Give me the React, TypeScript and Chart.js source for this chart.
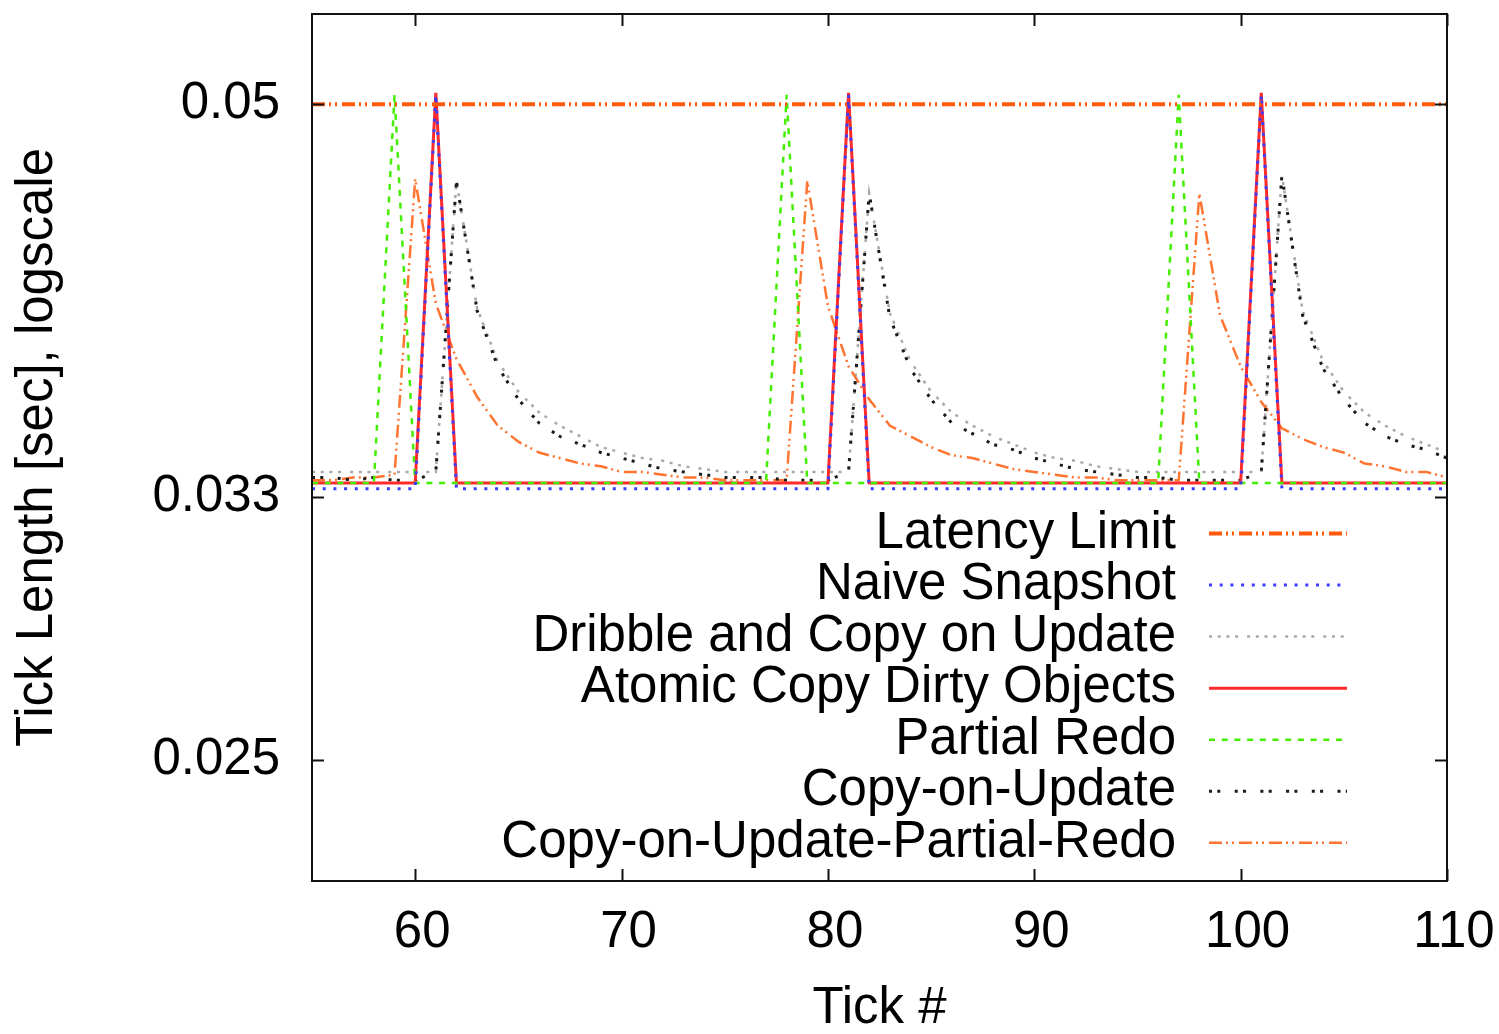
import React, { useEffect, useRef } from "react";
import { Chart, registerables } from "chart.js";

Chart.register(...registerables);

// ---------- data ----------
const tickNumbers = [
  55, 56, 57, 58, 59, 60, 61, 62, 63, 64, 65, 66, 67, 68, 69, 70, 71, 72, 73, 74,
  75, 76, 77, 78, 79, 80, 81, 82, 83, 84, 85, 86, 87, 88, 89, 90, 91, 92, 93, 94,
  95, 96, 97, 98, 99, 100, 101, 102, 103, 104, 105, 106, 107, 108, 109, 110,
];

const latencyLimitX = [55, 110];
const latencyLimit = [0.05, 0.05];

const naiveSnapshot = [
  0.0333, 0.0333, 0.0333, 0.0333, 0.0333, 0.0333, 0.0505, 0.0333, 0.0333, 0.0333,
  0.0333, 0.0333, 0.0333, 0.0333, 0.0333, 0.0333, 0.0333, 0.0333, 0.0333, 0.0333,
  0.0333, 0.0333, 0.0333, 0.0333, 0.0333, 0.0333, 0.0505, 0.0333, 0.0333, 0.0333,
  0.0333, 0.0333, 0.0333, 0.0333, 0.0333, 0.0333, 0.0333, 0.0333, 0.0333, 0.0333,
  0.0333, 0.0333, 0.0333, 0.0333, 0.0333, 0.0333, 0.0505, 0.0333, 0.0333, 0.0333,
  0.0333, 0.0333, 0.0333, 0.0333, 0.0333, 0.0333,
];

const dribbleCopyOnUpdate = [
  0.0339, 0.0339, 0.0339, 0.0339, 0.0339, 0.0339, 0.0339, 0.0461, 0.0403, 0.0381,
  0.0369, 0.0361, 0.0356, 0.0352, 0.0348, 0.0346, 0.0344, 0.0343, 0.0341, 0.034,
  0.0339, 0.0339, 0.0339, 0.0339, 0.0339, 0.0339, 0.0339, 0.0455, 0.0401, 0.0381,
  0.0369, 0.0361, 0.0356, 0.0352, 0.0349, 0.0346, 0.0344, 0.0343, 0.0341, 0.034,
  0.0339, 0.0339, 0.0339, 0.0339, 0.0339, 0.0339, 0.0339, 0.0464, 0.0402, 0.0381,
  0.0369, 0.0361, 0.0356, 0.0352, 0.0349, 0.0346,
];

const atomicCopyDirty = [
  0.0335, 0.0335, 0.0335, 0.0335, 0.0335, 0.0335, 0.0506, 0.0335, 0.0335, 0.0335,
  0.0335, 0.0335, 0.0335, 0.0335, 0.0335, 0.0335, 0.0335, 0.0335, 0.0335, 0.0335,
  0.0335, 0.0335, 0.0335, 0.0335, 0.0335, 0.0335, 0.0506, 0.0335, 0.0335, 0.0335,
  0.0335, 0.0335, 0.0335, 0.0335, 0.0335, 0.0335, 0.0335, 0.0335, 0.0335, 0.0335,
  0.0335, 0.0335, 0.0335, 0.0335, 0.0335, 0.0335, 0.0506, 0.0335, 0.0335, 0.0335,
  0.0335, 0.0335, 0.0335, 0.0335, 0.0335, 0.0335,
];

const partialRedo = [
  0.0335, 0.0335, 0.0335, 0.0335, 0.0505, 0.0335, 0.0335, 0.0335, 0.0335, 0.0335,
  0.0335, 0.0335, 0.0335, 0.0335, 0.0335, 0.0335, 0.0335, 0.0335, 0.0335, 0.0335,
  0.0335, 0.0335, 0.0335, 0.0505, 0.0335, 0.0335, 0.0335, 0.0335, 0.0335, 0.0335,
  0.0335, 0.0335, 0.0335, 0.0335, 0.0335, 0.0335, 0.0335, 0.0335, 0.0335, 0.0335,
  0.0335, 0.0335, 0.0505, 0.0335, 0.0335, 0.0335, 0.0335, 0.0335, 0.0335, 0.0335,
  0.0335, 0.0335, 0.0335, 0.0335, 0.0335, 0.0335,
];

const copyOnUpdate = [
  0.0337, 0.0337, 0.0336, 0.0337, 0.0336, 0.0336, 0.0339, 0.0461, 0.0402, 0.0379,
  0.0366, 0.0357, 0.0352, 0.0349, 0.0346, 0.0344, 0.0342, 0.034, 0.0339, 0.0338,
  0.0337, 0.0337, 0.0337, 0.0336, 0.0336, 0.0336, 0.0339, 0.0455, 0.0399, 0.0378,
  0.0366, 0.0357, 0.0353, 0.0349, 0.0347, 0.0344, 0.0342, 0.034, 0.0339, 0.0338,
  0.0337, 0.0337, 0.0336, 0.0336, 0.0336, 0.0336, 0.0339, 0.0464, 0.04, 0.0378,
  0.0366, 0.0357, 0.0352, 0.0349, 0.0347, 0.0344,
];

const copyOnUpdatePartialRedo = [
  0.0336, 0.0336, 0.0337, 0.0337, 0.0338, 0.0462, 0.0405, 0.0382, 0.0367, 0.0356,
  0.035, 0.0346, 0.0344, 0.0342, 0.0341, 0.0339, 0.0339, 0.0338, 0.0337, 0.0337,
  0.0336, 0.0336, 0.0336, 0.0336, 0.0461, 0.0404, 0.0379, 0.0366, 0.0356, 0.0352,
  0.0348, 0.0345, 0.0344, 0.0342, 0.034, 0.0339, 0.0338, 0.0337, 0.0337, 0.0336,
  0.0336, 0.0336, 0.0336, 0.0455, 0.04, 0.0379, 0.0365, 0.0355, 0.0351, 0.0348,
  0.0346, 0.0342, 0.0341, 0.0339, 0.0339, 0.0337,
];

const seriesLabels = [
  "Latency Limit",
  "Naive Snapshot",
  "Dribble and Copy on Update",
  "Atomic Copy Dirty Objects",
  "Partial Redo",
  "Copy-on-Update",
  "Copy-on-Update-Partial-Redo",
];

const xTickValues = [60, 70, 80, 90, 100, 110];
const yTickValues = [0.025, 0.033, 0.05];
const yTickLabels = ["0.025", "0.033", "0.05"];

const xTitle = "Tick #";
const yTitle = "Tick Length [sec], logscale";

// ---------- styling ----------
const FONT = "'Liberation Sans', Arial, Helvetica, sans-serif";
const FS = 51;

const toPoints = (xs: number[], ys: number[]) => ys.map((y, i) => ({ x: xs[i], y }));

const gnuplotFrame = {
  id: "gnuplotFrame",
  afterDatasetsDraw(chart: any) {
    const { ctx, chartArea } = chart;
    const { left, right, top, bottom } = chartArea;
    const xs = chart.scales.x;
    const ys = chart.scales.y;
    const TL = 12;
    ctx.save();
    ctx.strokeStyle = "#111";
    ctx.lineWidth = 2;
    ctx.setLineDash([]);
    ctx.strokeRect(left, top, right - left, bottom - top);
    ctx.beginPath();
    yTickValues.forEach((v) => {
      const py = Math.round(ys.getPixelForValue(v)) + 0.5;
      ctx.moveTo(left, py);
      ctx.lineTo(left + TL, py);
      ctx.moveTo(right, py);
      ctx.lineTo(right - TL, py);
    });
    xTickValues.forEach((v) => {
      const px = Math.round(xs.getPixelForValue(v)) + 0.5;
      ctx.moveTo(px, bottom);
      ctx.lineTo(px, bottom - TL);
      ctx.moveTo(px, top);
      ctx.lineTo(px, top + TL);
    });
    ctx.stroke();
    ctx.restore();
  },
  afterDraw(chart: any) {
    const { ctx, chartArea } = chart;
    const textRight = chartArea.right - 271;
    const s1 = chartArea.right - 238;
    const s2 = chartArea.right - 100;
    const y0 = chartArea.bottom - 347.5;
    const step = 51.55;
    ctx.save();
    ctx.font = `${FS}px ${FONT}`;
    ctx.textAlign = "right";
    ctx.textBaseline = "middle";
    chart.data.datasets.forEach((ds: any, i: number) => {
      const y = y0 + i * step;
      ctx.fillStyle = "#000";
      ctx.fillText(ds.label, textRight, y);
      ctx.beginPath();
      ctx.strokeStyle = ds.borderColor;
      ctx.lineWidth = ds.borderWidth;
      ctx.setLineDash(ds.borderDash || []);
      ctx.lineDashOffset = 0;
      ctx.moveTo(s1, y);
      ctx.lineTo(s2, y);
      ctx.stroke();
    });
    ctx.restore();
  },
};

export default function App() {
  const ref = useRef<HTMLCanvasElement | null>(null);

  useEffect(() => {
    const canvas = ref.current;
    if (!canvas) return;
    const chart = new Chart(canvas, {
      type: "line",
      data: {
        datasets: [
          {
            label: seriesLabels[0],
            data: toPoints(latencyLimitX, latencyLimit),
            borderColor: "#ff5a0a",
            borderWidth: 4,
            borderDash: [13, 4, 2, 4, 2, 5],
            order: 0,
          },
          {
            label: seriesLabels[1],
            data: toPoints(tickNumbers, naiveSnapshot),
            borderColor: "#3c3cff",
            borderWidth: 3,
            borderDash: [3, 7.7],
            order: 0,
          },
          {
            label: seriesLabels[2],
            data: toPoints(tickNumbers, dribbleCopyOnUpdate),
            borderColor: "#a8a8a8",
            borderWidth: 2.5,
            borderDash: [3, 5.7, 3, 5.7, 3, 5.7, 3, 9],
            order: 2,
          },
          {
            label: seriesLabels[3],
            data: toPoints(tickNumbers, atomicCopyDirty),
            borderColor: "#ff2a2a",
            borderWidth: 3,
            borderDash: [],
            order: 1,
          },
          {
            label: seriesLabels[4],
            data: toPoints(tickNumbers, partialRedo),
            borderColor: "#44ee00",
            borderWidth: 2.5,
            borderDash: [6, 6.7],
            order: 0,
          },
          {
            label: seriesLabels[5],
            data: toPoints(tickNumbers, copyOnUpdate),
            borderColor: "#1a1a1a",
            borderWidth: 3,
            borderDash: [3, 5.3, 3, 14.4],
            order: 1,
          },
          {
            label: seriesLabels[6],
            data: toPoints(tickNumbers, copyOnUpdatePartialRedo),
            borderColor: "#ff7430",
            borderWidth: 2.5,
            borderDash: [13, 4, 2, 4, 2, 5],
            order: 1,
          },
        ],
      },
      options: {
        responsive: false,
        devicePixelRatio: 1,
        animation: false,
        events: [],
        layout: { padding: { top: 14, right: 52, left: 0, bottom: 0 } },
        elements: {
          point: { radius: 0 },
          line: { tension: 0, fill: false, borderJoinStyle: "miter" },
        },
        plugins: {
          legend: { display: false },
          tooltip: { enabled: false },
        },
        scales: {
          x: {
            type: "linear",
            position: "bottom",
            min: 55,
            max: 110,
            grid: { display: false, drawTicks: false },
            border: { display: false },
            ticks: {
              font: { family: FONT, size: FS },
              color: "#000",
              padding: 21,
              labelOffset: 7,
              autoSkip: false,
              maxRotation: 0,
            },
            afterBuildTicks: (s: any) => {
              s.ticks = xTickValues.map((v) => ({ value: v }));
            },
            afterFit: (s: any) => {
              s.height = 153;
              s.paddingLeft = 0;
              s.paddingRight = 0;
            },
            title: {
              display: true,
              text: xTitle,
              color: "#000",
              font: { family: FONT, size: FS, lineHeight: 1 },
              padding: { top: 0, bottom: 0 },
            },
          },
          y: {
            type: "logarithmic",
            position: "left",
            min: 0.022,
            max: 0.055,
            grid: { display: false, drawTicks: false },
            border: { display: false },
            ticks: {
              font: { family: FONT, size: FS },
              color: "#000",
              padding: 32,
              autoSkip: false,
              callback: (v: any) => {
                const i = yTickValues.indexOf(Number(v));
                return i >= 0 ? yTickLabels[i] : "";
              },
            },
            afterBuildTicks: (s: any) => {
              s.ticks = yTickValues.map((v) => ({ value: v }));
            },
            afterFit: (s: any) => {
              s.width = 312;
              s.paddingTop = 0;
              s.paddingBottom = 0;
            },
            title: {
              display: true,
              text: yTitle,
              color: "#000",
              font: { family: FONT, size: FS, lineHeight: 1 },
              padding: { top: 12, bottom: 0 },
            },
          },
        },
      },
      plugins: [gnuplotFrame],
    } as any);
    return () => chart.destroy();
  }, []);

  return (
    <div
      style={{
        position: "fixed",
        left: 0,
        top: 0,
        width: 1499,
        height: 1034,
        background: "#fff",
      }}
    >
      <canvas
        ref={ref}
        width={1499}
        height={1034}
        style={{ display: "block", width: 1499, height: 1034 }}
      />
    </div>
  );
}
